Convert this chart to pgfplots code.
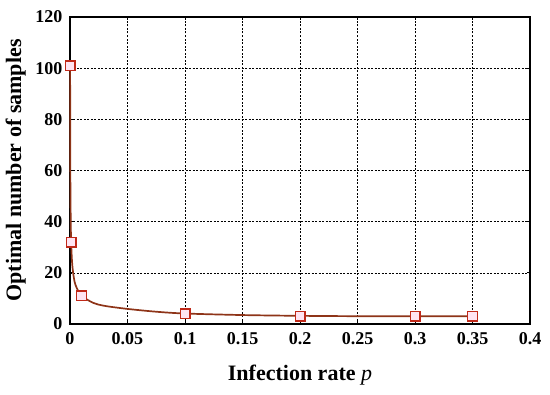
\documentclass[border=0pt]{standalone}
\usepackage{pgfplots}
\pgfplotsset{compat=1.18}
\usepackage{fontspec}
\setmainfont{Liberation Serif}
\definecolor{linec}{HTML}{8E3418}
\definecolor{markc}{HTML}{C02818}
\definecolor{markf}{HTML}{FFE4F2}
\begin{document}
\begin{tikzpicture}[font=\fontsize{18}{21}\selectfont]
\begin{axis}[
  scale only axis,
  width=460pt, height=307pt,
  xmin=0, xmax=0.4, ymin=0, ymax=120,
  xtick={0,0.05,...,0.4},
  xticklabels={\textbf{0},\textbf{0.05},\textbf{0.1},\textbf{0.15},\textbf{0.2},\textbf{0.25},\textbf{0.3},\textbf{0.35},\textbf{0.4}},
  ytick={0,20,...,120},
  yticklabels={\textbf{0},\textbf{20},\textbf{40},\textbf{60},\textbf{80},\textbf{100},\textbf{120}},
  tick align=inside,
  major tick length=3pt,
  tick style={black, line width=0.8pt},
  axis line style={black, line width=1.5pt},
  grid=major,
  grid style={black, line width=0.6pt, dash pattern=on 2pt off 1.5pt},
  tick label style={font=\fontsize{18}{21}\selectfont},
  label style={font=\fontsize{22}{26}\selectfont},
  xticklabel style={yshift=-5pt},
  yticklabel style={xshift=-4pt},
  xlabel={\textbf{Infection rate} \textit{p}},
  ylabel={\textbf{Optimal number of samples}},
  xlabel style={at={(axis description cs:0.5,-0.166)}, anchor=center},
  ylabel style={at={(axis description cs:-0.118,0.5)}, anchor=center},
  clip=false,
]
\addplot[linec, line width=1.7pt, smooth, tension=0.5] coordinates {
 (0.0001,101) (0.0003,60) (0.0006,42) (0.001,32) (0.002,23) (0.004,16.5) (0.007,13)
 (0.01,11) (0.02,8.3) (0.03,7.1) (0.05,5.9) (0.075,4.8) (0.1,4.1)
 (0.15,3.5) (0.2,3.2) (0.25,3.05) (0.3,3) (0.35,3)
};
\addplot[only marks, mark=square*, mark size=4.8pt,
  mark options={draw=markc, fill=markf, line width=1.4pt}] coordinates {
 (0.0001,101) (0.001,32) (0.01,11) (0.1,4) (0.2,3) (0.3,3) (0.35,3)
};
\end{axis}
\path ([shift={(-70pt,-70pt)}]current axis.south west) rectangle ([shift={(20pt,17pt)}]current axis.north east);
\end{tikzpicture}
\end{document}
